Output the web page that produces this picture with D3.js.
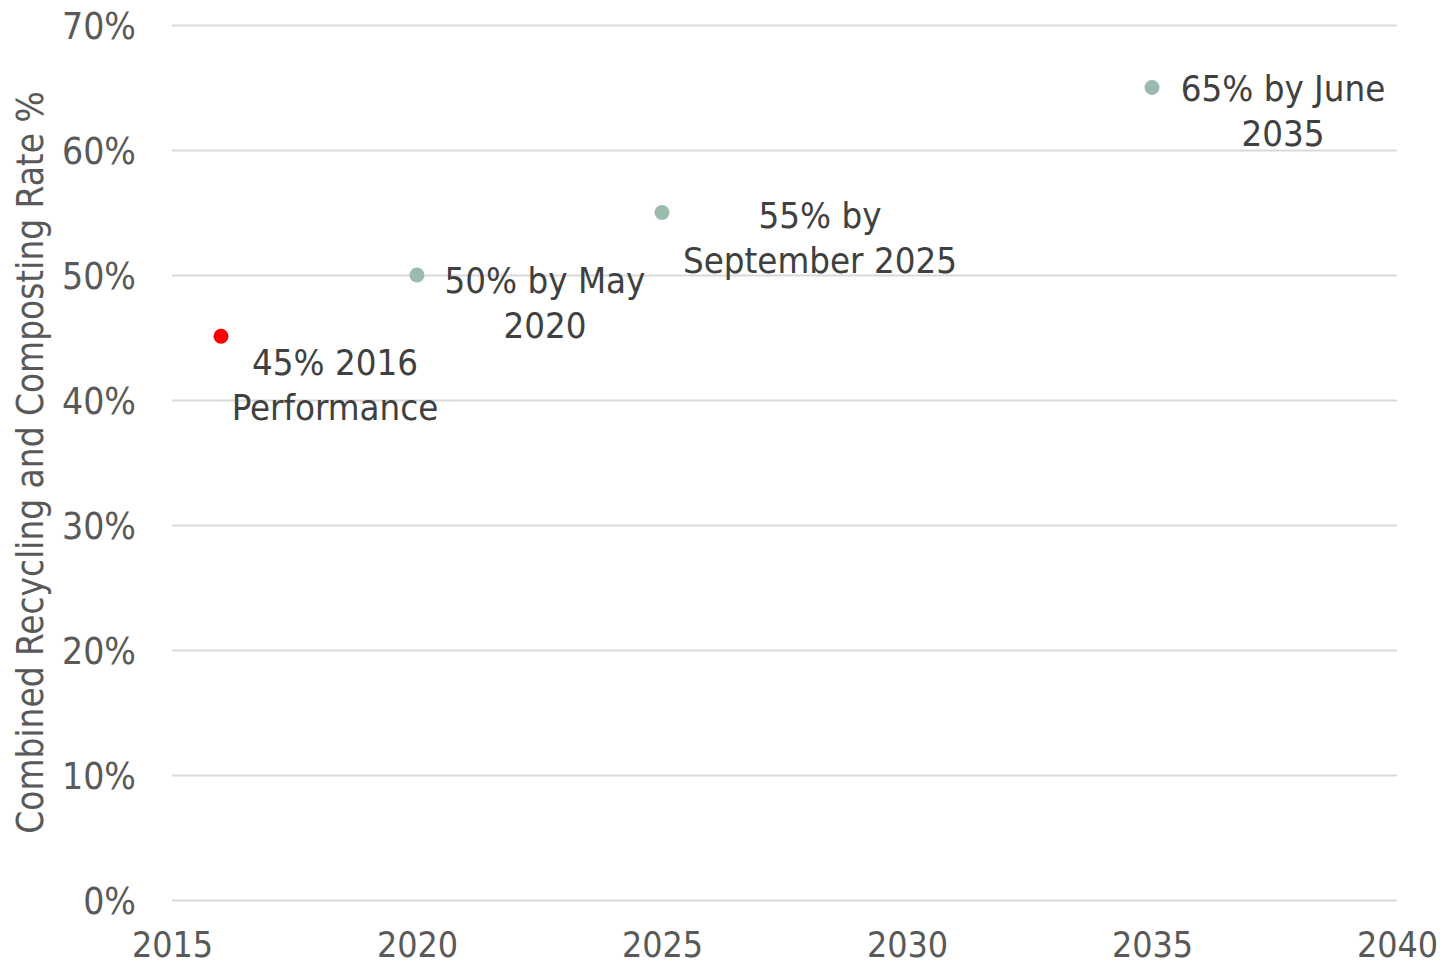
<!DOCTYPE html>
<html>
<head>
<meta charset="utf-8">
<script src="https://cdn.jsdelivr.net/npm/d3@7"></script>
<style>
  html, body { margin: 0; padding: 0; background: #fff; }
  svg { display: block; }
  text { font-family: "DejaVu Sans Condensed", "DejaVu Sans", sans-serif; }
</style>
</head>
<body>
<svg id="chart" width="1445" height="967"></svg>
<script>
// ---- data ----
const years = [2016, 2020, 2025, 2035];
const rates = [0.451, 0.50, 0.55, 0.65];
const labelLine1 = ["45% 2016", "50% by May", "55% by", "65% by June"];
const labelLine2 = ["Performance", "2020", "September 2025", "2035"];
const pointKinds = ["actual", "target", "target", "target"];
const xTickValues = [2015, 2020, 2025, 2030, 2035, 2040];
const yTickValues = [0, 0.1, 0.2, 0.3, 0.4, 0.5, 0.6, 0.7];
const yAxisTitle = "Combined Recycling and Composting Rate %";

// ---- styling / layout ----
const labelOffsets = [[114, 26], [128, 5], [158, 2], [131, 0]];
const colors = { actual: "#ff0000", target: "#9bbbad" };
const margin = { left: 172, right: 48, top: 25, bottom: 67 };
const W = 1445, H = 967;
const FONT = "'DejaVu Sans Condensed', 'DejaVu Sans', sans-serif";

const svg = d3.select("#chart");
const x = d3.scaleLinear().domain([2015, 2040]).range([margin.left, W - margin.right]);
const y = d3.scaleLinear().domain([0, 0.7]).range([H - margin.bottom, margin.top]);

// gridlines + y ticks
const yAxis = d3.axisLeft(y).tickValues(yTickValues)
  .tickSize(-(W - margin.left - margin.right))
  .tickFormat(d3.format(".0%"))
  .tickPadding(36);
const gy = svg.append("g").attr("transform", `translate(${margin.left},0)`).call(yAxis);
gy.select(".domain").remove();
gy.selectAll(".tick line").attr("stroke", "#d9d9d9").attr("stroke-width", 2);
gy.selectAll(".tick text").attr("fill", "#595959").attr("font-size", 37)
  .attr("font-family", FONT)
  .attr("dy", "0.36em");

// x ticks
const xAxis = d3.axisBottom(x).tickValues(xTickValues).tickSize(0)
  .tickFormat(d3.format("d")).tickPadding(32);
const gx = svg.append("g").attr("transform", `translate(0,${H - margin.bottom})`).call(xAxis);
gx.select(".domain").remove();
gx.selectAll(".tick text").attr("fill", "#595959").attr("font-size", 35.5)
  .attr("font-family", FONT);

// axis title
svg.append("text")
  .attr("transform", `translate(43,${(margin.top + H - margin.bottom) / 2}) rotate(-90)`)
  .attr("text-anchor", "middle")
  .attr("fill", "#595959")
  .attr("font-size", 36.6)
  .text(yAxisTitle);

// points
const pts = years.map((yr, i) => ({ yr, r: rates[i], kind: pointKinds[i], l1: labelLine1[i], l2: labelLine2[i], off: labelOffsets[i] }));
svg.append("g").selectAll("circle").data(pts).join("circle")
  .attr("cx", d => x(d.yr)).attr("cy", d => y(d.r)).attr("r", 7.5)
  .attr("fill", d => colors[d.kind]);

// labels
const lg = svg.append("g").selectAll("text").data(pts).join("text")
  .attr("text-anchor", "middle")
  .attr("fill", "#404040")
  .attr("font-size", 36.3)
  .attr("x", d => x(d.yr) + d.off[0])
  .attr("y", d => y(d.r) + d.off[1]);
lg.append("tspan").attr("x", d => x(d.yr) + d.off[0]).attr("dy", "0.36em").text(d => d.l1);
lg.append("tspan").attr("x", d => x(d.yr) + d.off[0]).attr("dy", 45).text(d => d.l2);
</script>
</body>
</html>
